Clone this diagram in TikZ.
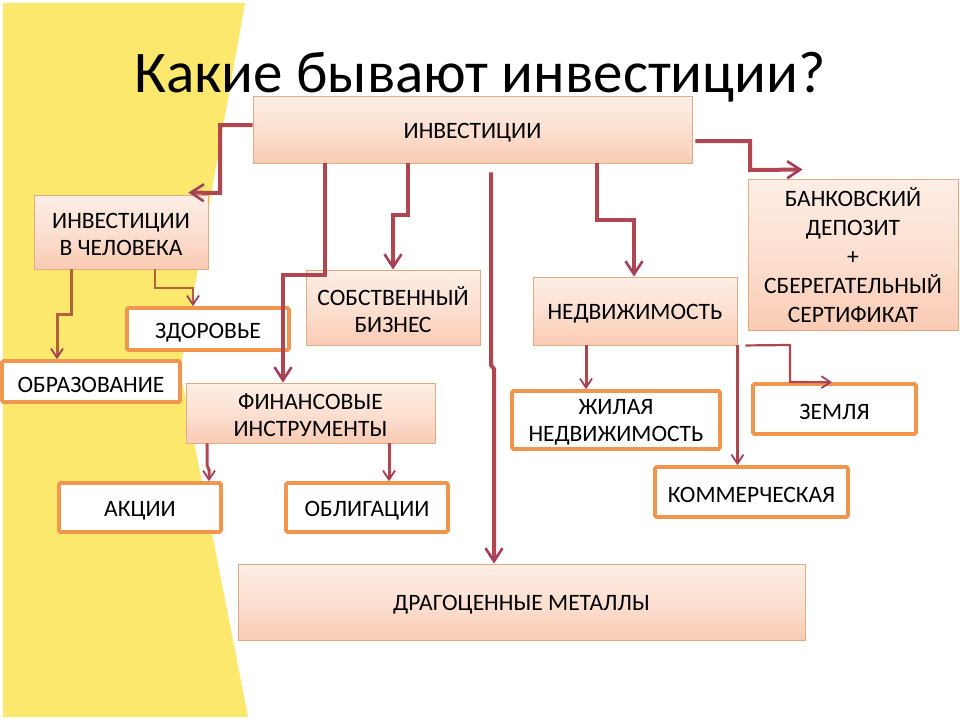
\documentclass[tikz,border=0pt]{standalone}
\usepackage{fontspec}
\setmainfont{Carlito}
\usetikzlibrary{arrows.meta,calc}
\definecolor{yellowbg}{RGB}{252,232,108}
\definecolor{pinktop}{RGB}{253,238,229}
\definecolor{pinkbot}{RGB}{250,203,180}
\definecolor{pinkborder}{RGB}{222,172,135}
\definecolor{orangeb}{RGB}{240,150,78}
\definecolor{connc}{RGB}{176,70,80}
\definecolor{arrowc}{RGB}{165,62,88}
\definecolor{brownc}{RGB}{178,98,62}
\tikzset{
  boxtext/.style={font=\fontsize{23.5}{27}\selectfont, align=center, text=black, inner sep=0pt},
  pinkbox/.style={rectangle, inner sep=0pt, draw=pinkborder, line width=0.9pt, top color=pinktop, bottom color=pinkbot, middle color=pinktop!60!pinkbot},
  whitebox/.style={rectangle, inner sep=0pt, rounded corners=1.5pt, draw=orangeb, line width=3.6pt, fill=white},
  bigtip/.style={-{Straight Barb[length=13pt,width=17pt,line width=2.6pt,color=arrowc]}},
  smalltip/.style={-{Straight Barb[length=9pt,width=12pt,line width=1.8pt,color=arrowc]}},
  connthick/.style={draw=connc, line width=4pt, bigtip},
  connmid/.style={draw=connc, line width=3pt, smalltip},
  connthin/.style={draw=connc, line width=2.2pt, smalltip},
  connbrown/.style={draw=brownc, line width=3pt, smalltip},
  connbrownthin/.style={draw=brownc, line width=2.2pt, smalltip},
}
\begin{document}
\begin{tikzpicture}[x=1pt,y=-1pt]
\useasboundingbox (0,0) rectangle (960,720);
\fill[white] (0,0) rectangle (960,720);
% yellow background band
\fill[yellowbg] (3,3) -- (245,3) -- (180,370) -- (248,717) -- (3,717) -- cycle;

% boxes
\node[pinkbox, minimum width=439pt, minimum height=67pt] (inv) at (472.5,129.5) {};
\node[pinkbox, minimum width=174pt, minimum height=74pt] (chel) at (121,232) {};
\node[whitebox, minimum width=162pt, minimum height=42pt] (zdor) at (208,329) {};
\node[whitebox, minimum width=178pt, minimum height=41pt] (obr) at (91,381.5) {};
\node[pinkbox, minimum width=174pt, minimum height=75pt] (biz) at (393,307.5) {};
\node[pinkbox, minimum width=249pt, minimum height=60pt] (fin) at (310.5,413) {};
\node[whitebox, minimum width=162pt, minimum height=49pt] (akc) at (140,507.5) {};
\node[whitebox, minimum width=162pt, minimum height=49pt] (obl) at (367,507.5) {};
\node[pinkbox, minimum width=567pt, minimum height=76pt] (drag) at (521.5,602) {};
\node[pinkbox, minimum width=204pt, minimum height=68pt] (ned) at (635,311) {};
\node[pinkbox, minimum width=210pt, minimum height=151pt] (bank) at (853,254.5) {};
\node[whitebox, minimum width=208pt, minimum height=58pt] (zhil) at (616,420) {};
\node[whitebox, minimum width=163pt, minimum height=50pt] (zem) at (834.5,409) {};
\node[whitebox, minimum width=193pt, minimum height=50pt] (kom) at (751.5,492) {};

% box texts
\node[boxtext] (inv-t) at ($(inv.center)+(0,3)$) {ИНВЕСТИЦИИ};
\node[boxtext] (chel-t) at ($(chel.center)+(0,2)$) {ИНВЕСТИЦИИ\\В ЧЕЛОВЕКА};
\node[boxtext] (zdor-t) at ($(zdor.center)+(0,3.5)$) {ЗДОРОВЬЕ};
\node[boxtext] (obr-t) at ($(obr.center)+(0,3)$) {ОБРАЗОВАНИЕ};
\node[boxtext] (biz-t) at ($(biz.center)+(0,2)$) {СОБСТВЕННЫЙ\\БИЗНЕС};
\node[boxtext] (fin-t) at ($(fin.center)+(0,2)$) {ФИНАНСОВЫЕ\\ИНСТРУМЕНТЫ};
\node[boxtext] (akc-t) at ($(akc.center)+(0,3)$) {АКЦИИ};
\node[boxtext] (obl-t) at ($(obl.center)+(0,3)$) {ОБЛИГАЦИИ};
\node[boxtext] (drag-t) at ($(drag.center)+(0,3)$) {ДРАГОЦЕННЫЕ МЕТАЛЛЫ};
\node[boxtext] (ned-t) at ($(ned.center)+(0,3)$) {НЕДВИЖИМОСТЬ};
\node[boxtext, font=\fontsize{23.5}{29}\selectfont] (bank-t) at ($(bank.center)+(0,0.5)$) {БАНКОВСКИЙ\\ДЕПОЗИТ\\+\\СБЕРЕГАТЕЛЬНЫЙ\\СЕРТИФИКАТ};
\node[boxtext] (zhil-t) at ($(zhil.center)+(0,2)$) {ЖИЛАЯ\\НЕДВИЖИМОСТЬ};
\node[boxtext] (zem-t) at ($(zem.center)+(0,3)$) {ЗЕМЛЯ};
\node[boxtext] (kom-t) at ($(kom.center)+(0,3)$) {КОММЕРЧЕСКАЯ};

% connectors from ИНВЕСТИЦИИ
\draw[connthick] (inv.west |- 0,125) -- (220,125) -- (220,193) -- ($(chel.north east)+(-20,-2)$);
\draw[connthick] (inv.south -| 325,0) -- (325,275) -- (283,275) -- (fin.north -| 283,0);
\draw[connthick] (inv.south -| 408,0) -- (408,215) -- (393,215) -- (biz.north);
\draw[connthick] ($(inv.south -| 491,0)+(0,9)$) -- (491,365) -- (494,369) -- (drag.north -| 494,0);
\draw[connthick] (inv.south -| 597,0) -- (597,220) -- (634,220) -- (ned.north -| 634,0);
\draw[connthick] ($(inv.east |- 0,141)+(3,0)$) -- (750,141) -- (750,170) -- ($(bank.north west)+(55,-9)$);

% from ИНВЕСТИЦИИ В ЧЕЛОВЕКА
\draw[connbrown] (chel.south -| 71,0) -- (71,314) -- (57,314) -- (obr.north -| 57,0);
\draw[connbrownthin] (chel.south -| 155,0) -- (155,288) -- (193,288) -- (zdor.north -| 193,0);

% from ФИНАНСОВЫЕ ИНСТРУМЕНТЫ
\draw[connmid] (fin.south -| 207,0) -- (207,465) -- (209,470) -- (akc.north -| 209,0);
\draw[connmid] (fin.south -| 389,0) -- (obl.north -| 389,0);

% from НЕДВИЖИМОСТЬ
\draw[connmid] (ned.south -| 586,0) -- (zhil.north -| 586,0);
\draw[connthin] (ned.south east) -- (kom.north -| ned.east);
\draw[connthin] ($(ned.south east)+(8,0)$) -- (790,345) -- (790,382) -- (zem.north -| 832,0);

% title
\node[anchor=base, font=\fontsize{59}{65}\selectfont, inner sep=0pt] (title) at (480,92) {Какие бывают инвестиции?};
\end{tikzpicture}
\end{document}
